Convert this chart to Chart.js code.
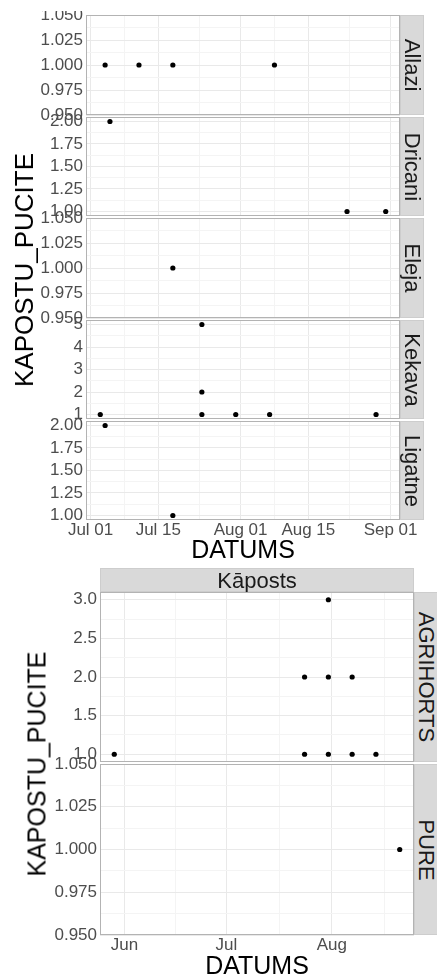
<!DOCTYPE html>
<html>
<head>
<meta charset="utf-8">
<script src="https://cdn.jsdelivr.net/npm/chart.js@4.4.1/dist/chart.umd.min.js"></script>
<style>
  html, body { margin: 0; padding: 0; background: #fff; }
  body { width: 437px; height: 976px; position: relative; overflow: hidden;
         font-family: "Liberation Sans", Arial, sans-serif; }
  canvas { position: absolute; }
  .strip { position: absolute; background: #d9d9d9; box-sizing: border-box; border: 1px solid #cdcdcd; }
  .lab { position: absolute; white-space: nowrap; transform-origin: center center; }
</style>
</head>
<body>
<script>
// ---------------- data ----------------
const YEAR = 2019;

// counts per trap date, by site (upper figure)
const siteNames = ['Allazi', 'Dricani', 'Eleja', 'Kekava', 'Ligatne'];
const allaziDates   = ['07-04', '07-11', '07-18', '08-08'];
const allaziCounts  = [1, 1, 1, 1];
const dricaniDates  = ['07-05', '08-23', '08-31'];
const dricaniCounts = [2, 1, 1];
const elejaDates    = ['07-18'];
const elejaCounts   = [1];
const kekavaDates   = ['07-03', '07-24', '07-24', '07-24', '07-31', '08-07', '08-29'];
const kekavaCounts  = [1, 5, 2, 1, 1, 1, 1];
const ligatneDates  = ['07-04', '07-18'];
const ligatneCounts = [2, 1];

// counts per trap date, by farm, crop "Kāposts" (lower figure)
const cropName = 'Kāposts';
const farmNames = ['AGRIHORTS', 'PURE'];
const agrihortsDates  = ['05-29', '07-24', '07-24', '07-31', '07-31', '07-31', '08-07', '08-07', '08-14'];
const agrihortsCounts = [1, 2, 1, 3, 2, 1, 2, 1, 1];
const pureDates  = ['08-21'];
const pureCounts = [1];

// axis breaks and tick labels
const siteDateBreaks = ['06-15', '07-01', '07-15', '08-01', '08-15', '09-01', '09-15'];
const siteDateLabels = ['Jun 15', 'Jul 01', 'Jul 15', 'Aug 01', 'Aug 15', 'Sep 01', 'Sep 15'];
const farmDateBreaks = ['05-01', '06-01', '07-01', '08-01', '09-01'];
const farmDateLabels = ['May', 'Jun', 'Jul', 'Aug', 'Sep'];
const yTicksAllazi    = ['0.950', '0.975', '1.000', '1.025', '1.050'];
const yTicksDricani   = ['1.00', '1.25', '1.50', '1.75', '2.00'];
const yTicksEleja     = ['0.950', '0.975', '1.000', '1.025', '1.050'];
const yTicksKekava    = ['1', '2', '3', '4', '5'];
const yTicksLigatne   = ['1.00', '1.25', '1.50', '1.75', '2.00'];
const yTicksAgrihorts = ['1.0', '1.5', '2.0', '2.5', '3.0'];
const yTicksPure      = ['0.950', '0.975', '1.000', '1.025', '1.050'];

const yTitle = 'KAPOSTU_PUCITE';
const xTitle = 'DATUMS';

// ---------------- helpers ----------------
const FIG_W = 437;
const dayOf = s => Date.UTC(YEAR, +s.slice(0, 2) - 1, +s.slice(3, 5)) / 86400000;

// ggplot-style 5% expansion of a continuous range
function expand(lo, hi) {
  if (hi === lo) return [lo - 0.05 * Math.abs(lo), hi + 0.05 * Math.abs(hi)];
  const d = (hi - lo) * 0.05;
  return [lo - d, hi + d];
}

// major breaks plus minor breaks half way between them
function withMinor(majors, lo, hi) {
  const out = [];
  majors.forEach((m, i) => {
    out.push({ value: m.value, label: m.label, minor: false });
    if (i < majors.length - 1) out.push({ value: (m.value + majors[i + 1].value) / 2, label: '', minor: true });
  });
  if (majors.length > 1) {
    const first = majors[0].value, last = majors[majors.length - 1].value;
    out.unshift({ value: first - (majors[1].value - first) / 2, label: '', minor: true });
    out.push({ value: last + (last - majors[majors.length - 2].value) / 2, label: '', minor: true });
  }
  const eps = 1e-9;
  return out.filter(t => t.value >= lo - eps && t.value <= hi + eps).sort((a, b) => a.value - b.value);
}

Chart.defaults.font.family = '"Liberation Sans", Arial, sans-serif';

const panelFrame = {
  id: 'panelFrame',
  beforeDatasetsDraw(chart) {
    const a = chart.chartArea, ctx = chart.ctx;
    ctx.save();
    ctx.strokeStyle = '#b3b3b3';
    ctx.lineWidth = 1;
    ctx.strokeRect(Math.round(a.left) + 0.5, Math.round(a.top) + 0.5,
                   Math.round(a.right - a.left) - 1, Math.round(a.bottom - a.top) - 1);
    ctx.restore();
  }
};

const gridColor = ctx => (ctx.tick && ctx.tick.minor) ? '#f4f4f4' : '#e9e9e9';

function facet(p) {
  const cv = document.createElement('canvas');
  const h = p.bottom - p.canvasTop + p.below;
  cv.width = FIG_W; cv.height = h;
  cv.style.left = '0px'; cv.style.top = p.canvasTop + 'px';
  cv.style.width = FIG_W + 'px'; cv.style.height = h + 'px';
  document.body.appendChild(cv);

  const yVals = p.yLabels.map(Number);
  const [yMin, yMax] = expand(Math.min(...p.counts), Math.max(...p.counts));
  const xTicks = withMinor(p.xBreaks, p.xMin, p.xMax);
  const yTicks = withMinor(p.yLabels.map((l, i) => ({ value: yVals[i], label: l })), yMin, yMax);

  new Chart(cv, {
    type: 'scatter',
    data: {
      datasets: [{
        data: p.dates.map((d, i) => ({ x: dayOf(d), y: p.counts[i] })),
        pointRadius: 2.6, pointHoverRadius: 2.6,
        pointBackgroundColor: '#000', pointBorderWidth: 0
      }]
    },
    options: {
      responsive: false, animation: false, events: [],
      layout: { padding: { top: p.top - p.canvasTop, left: 0, right: FIG_W - p.right,
                           bottom: p.showX ? 0 : p.below } },
      plugins: { legend: { display: false }, tooltip: { enabled: false } },
      scales: {
        x: {
          type: 'linear', bounds: 'data', min: p.xMin, max: p.xMax,
          afterBuildTicks: s => { s.ticks = xTicks.map(t => ({ ...t })); },
          afterFit: s => { s.height = p.showX ? p.below : 0; s.paddingLeft = 0; s.paddingRight = 0; },
          grid: { color: gridColor, lineWidth: 1, drawTicks: false },
          border: { display: false },
          ticks: { display: p.showX, autoSkip: false, maxRotation: 0, minRotation: 0, padding: 0,
                   color: '#4d4d4d', font: { size: 17 }, callback: (v, i, ts) => ts[i].label }
        },
        y: {
          type: 'linear', bounds: 'data', min: yMin, max: yMax,
          afterBuildTicks: s => { s.ticks = yTicks.map(t => ({ ...t })); },
          afterFit: s => { s.width = p.left; s.paddingTop = 0; s.paddingBottom = 0; },
          grid: { color: gridColor, lineWidth: 1, drawTicks: false },
          border: { display: false },
          ticks: { autoSkip: false, padding: 3, color: '#4d4d4d', font: { size: 17 },
                   callback: (v, i, ts) => ts[i].label }
        }
      }
    },
    plugins: [panelFrame]
  });
}

function addBox(x, y, w, h) {
  const d = document.createElement('div');
  d.className = 'strip';
  d.style.left = x + 'px'; d.style.top = y + 'px';
  d.style.width = w + 'px'; d.style.height = h + 'px';
  document.body.appendChild(d);
}

function addText(txt, cx, cy, size, color, rot) {
  const d = document.createElement('div');
  d.className = 'lab';
  d.textContent = txt;
  d.style.left = cx + 'px'; d.style.top = cy + 'px';
  d.style.fontSize = size + 'px'; d.style.lineHeight = size + 'px';
  d.style.color = color;
  d.style.transform = `translate(-50%, -50%) rotate(${rot}deg)`;
  document.body.appendChild(d);
}

// ---------------- upper figure: sites ----------------
const siteDates  = [allaziDates, dricaniDates, elejaDates, kekavaDates, ligatneDates];
const siteCounts = [allaziCounts, dricaniCounts, elejaCounts, kekavaCounts, ligatneCounts];
const siteYTicks = [yTicksAllazi, yTicksDricani, yTicksEleja, yTicksKekava, yTicksLigatne];
const upperRows = [[15, 115], [117, 216], [218, 318], [320, 419], [421, 520]];
const upperDays = siteDates.flat().map(dayOf);
const [upXMin, upXMax] = expand(Math.min(...upperDays), Math.max(...upperDays));
const upXBreaks = siteDateBreaks.map((d, i) => ({ value: dayOf(d), label: siteDateLabels[i] }));

siteNames.forEach((name, i) => {
  const [top, bottom] = upperRows[i];
  const last = i === siteNames.length - 1;
  facet({
    top, bottom, left: 86, right: 400,
    canvasTop: i === 0 ? 11 : top - 12,
    below: last ? 30 : 12, showX: last,
    dates: siteDates[i], counts: siteCounts[i],
    xMin: upXMin, xMax: upXMax, xBreaks: upXBreaks,
    yLabels: siteYTicks[i]
  });
  addBox(400, top, 24, bottom - top);
  addText(name, 412, (top + bottom) / 2, 22, '#1a1a1a', 90);
});
addText(yTitle, 24, 270, 26, '#000', -90);
addText(xTitle, 243, 549, 25, '#000', 0);

// ---------------- lower figure: farms ----------------
const farmDates  = [agrihortsDates, pureDates];
const farmCounts = [agrihortsCounts, pureCounts];
const farmYTicks = [yTicksAgrihorts, yTicksPure];
const lowerRows = [[592, 762], [764, 935]];
const lowerDays = farmDates.flat().map(dayOf);
const [loXMin, loXMax] = expand(Math.min(...lowerDays), Math.max(...lowerDays));
const loXBreaks = farmDateBreaks.map((d, i) => ({ value: dayOf(d), label: farmDateLabels[i] }));

addBox(100, 568, 314, 24);
addText(cropName, 257, 581, 22, '#1a1a1a', 0);
farmNames.forEach((name, i) => {
  const [top, bottom] = lowerRows[i];
  const last = i === farmNames.length - 1;
  facet({
    top, bottom, left: 100, right: 414,
    canvasTop: top - 12,
    below: last ? 30 : 12, showX: last,
    dates: farmDates[i], counts: farmCounts[i],
    xMin: loXMin, xMax: loXMax, xBreaks: loXBreaks,
    yLabels: farmYTicks[i]
  });
  addBox(414, top, 24, bottom - top);
  addText(name, 426, (top + bottom) / 2, 22, '#1a1a1a', 90);
});
addText(yTitle, 37, 764, 25, '#000', -90);
addText(xTitle, 257, 965, 25, '#000', 0);
</script>
</body>
</html>
